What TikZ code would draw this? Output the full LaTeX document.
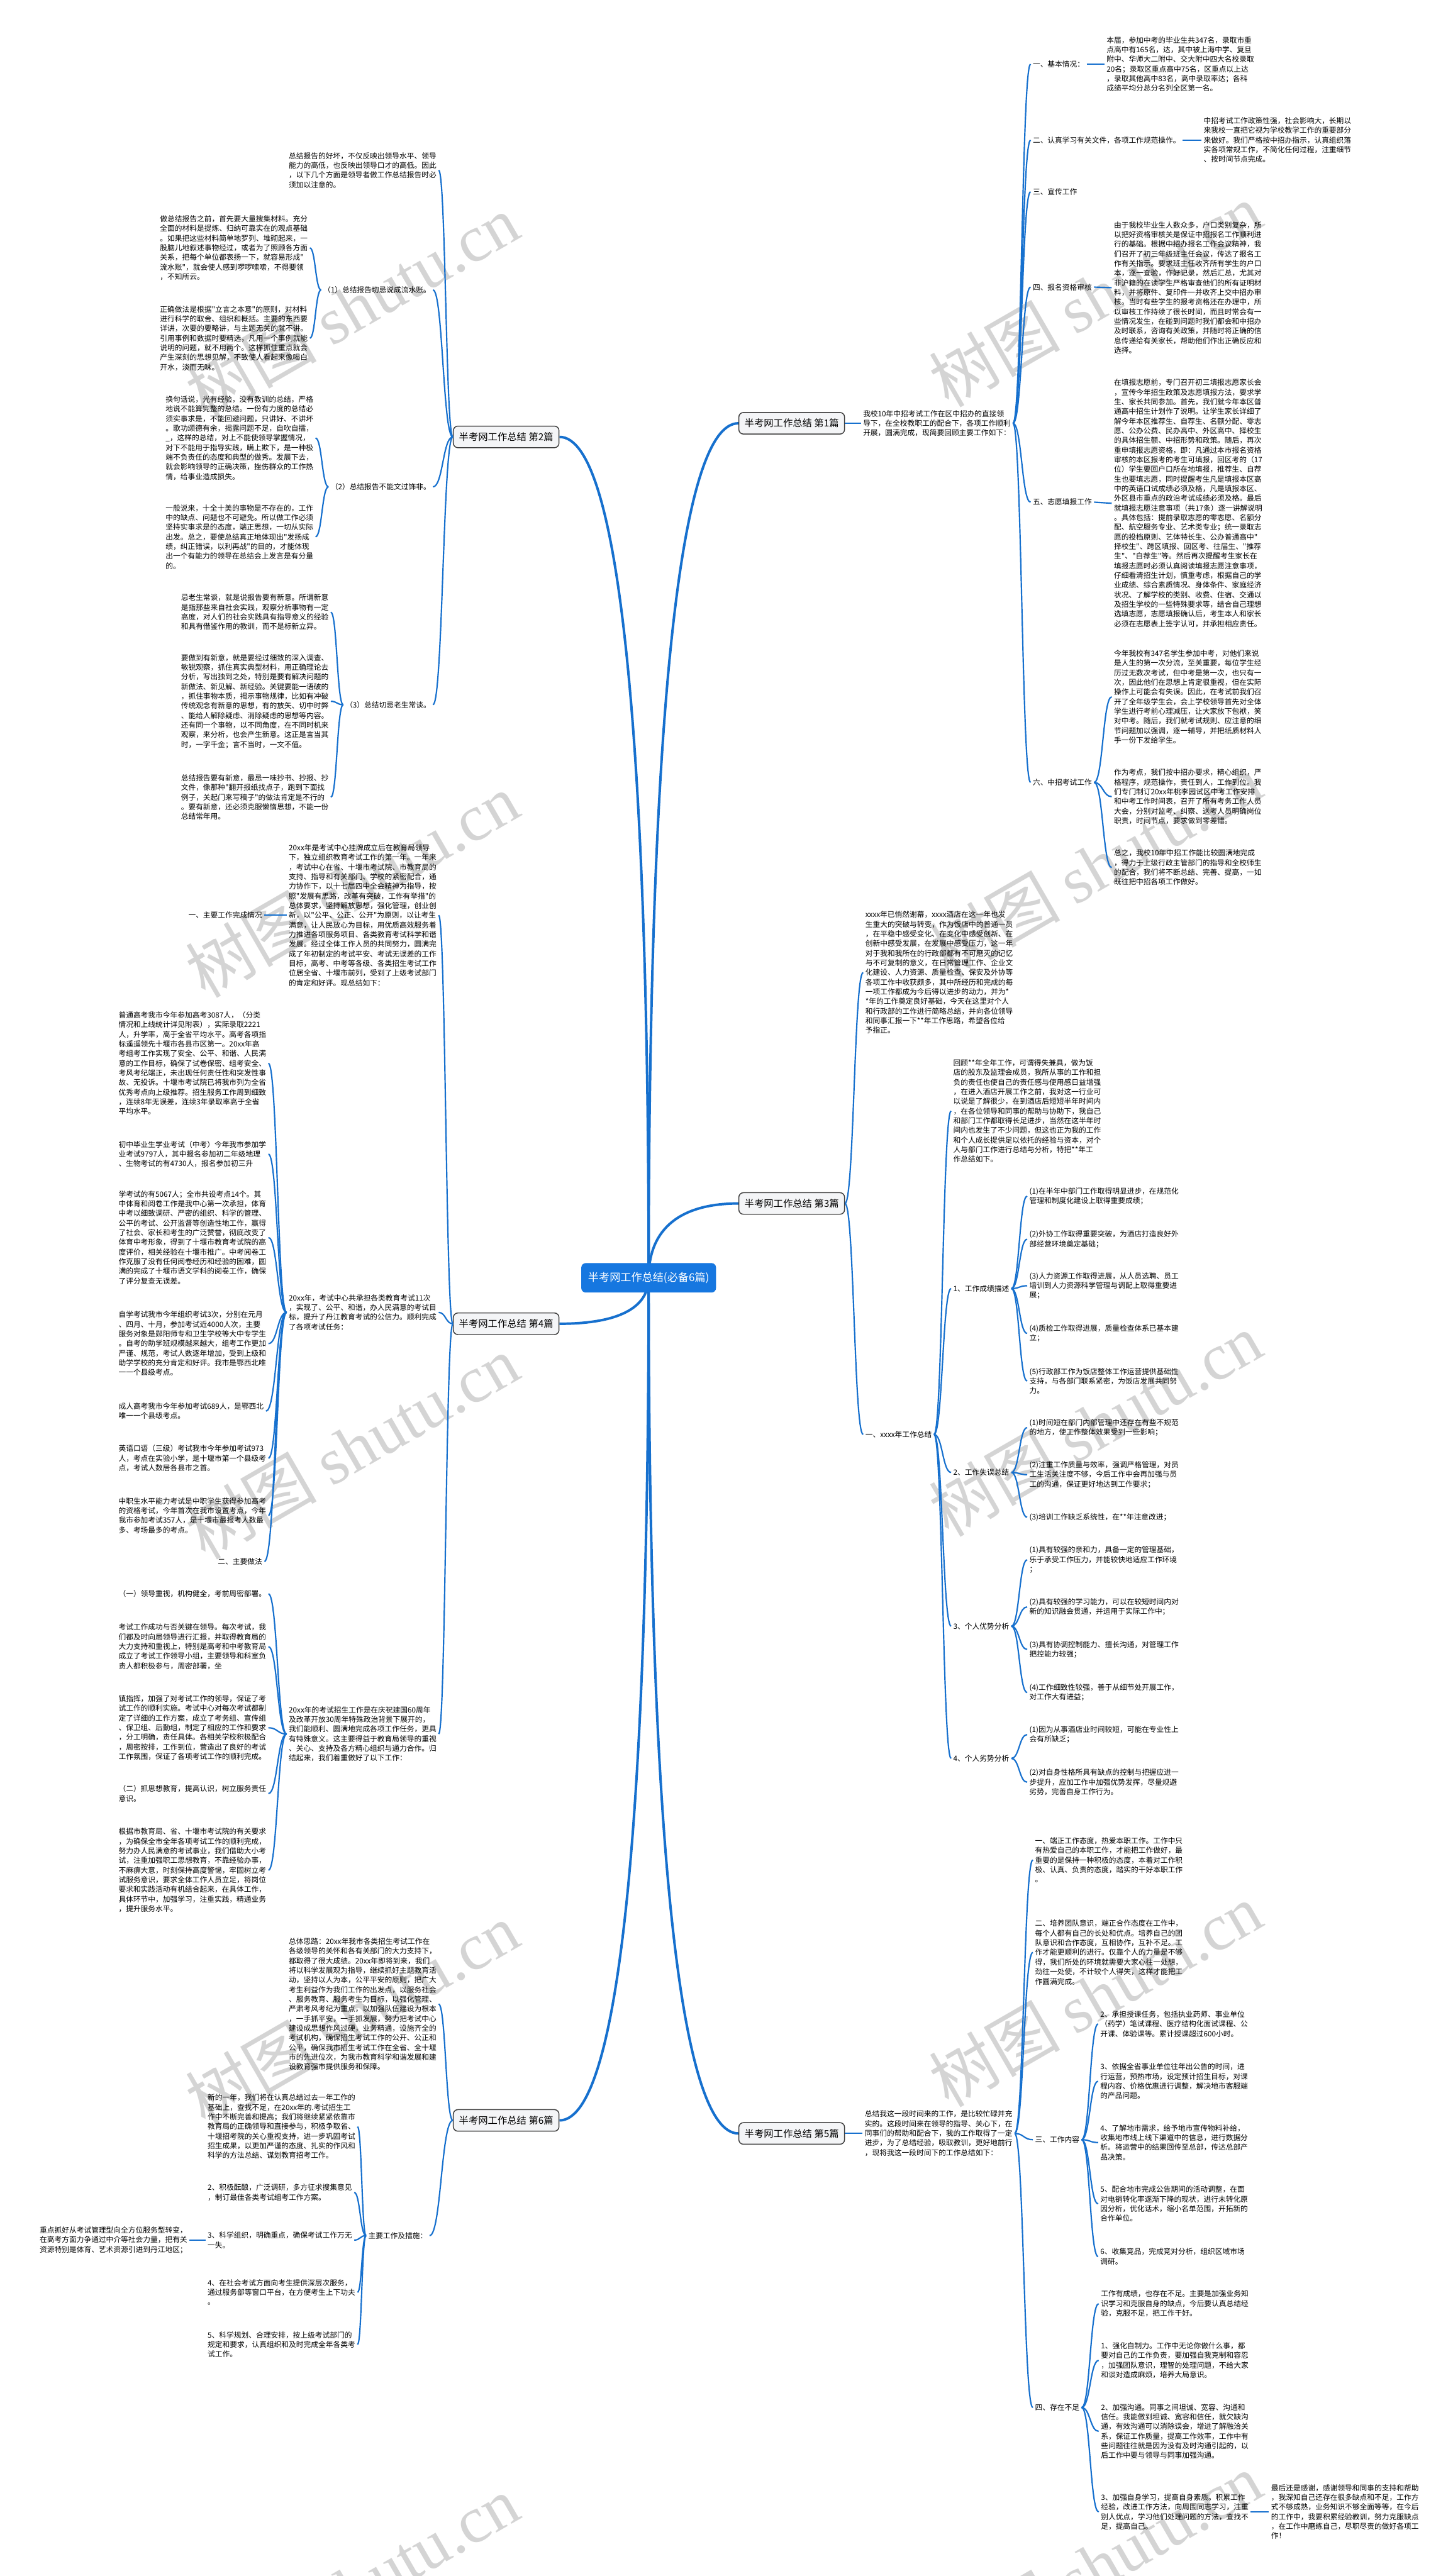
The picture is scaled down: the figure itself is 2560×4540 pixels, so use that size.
\documentclass[tikz,border=0pt]{standalone}
\usepackage{fontspec}
\newfontfamily\cjk{Noto Sans CJK SC}
\newfontfamily\wmfont{Liberation Serif}
\usetikzlibrary{calc,backgrounds}
\definecolor{linkblue}{RGB}{22,112,206}
\definecolor{rootblue}{RGB}{22,119,224}
\definecolor{boxgray}{RGB}{60,60,60}
\definecolor{boxfill}{RGB}{244,245,247}
\definecolor{markgray}{RGB}{212,212,212}
\begin{document}
\begin{tikzpicture}[x=0.5pt,y=-0.5pt]
  \tikzset{txt/.style={font=\cjk\fontsize{6.5}{8.5}\selectfont,align=left,inner sep=0pt,outer sep=2pt,anchor=west},
    root/.style={fill=rootblue,text=white,rounded corners=4pt,font=\cjk\fontsize{9.5}{11}\selectfont,inner xsep=6pt,minimum height=26pt},
    branch/.style={draw=boxgray,line width=0.8pt,fill=boxfill,rounded corners=4pt,font=\cjk\fontsize{8.5}{10}\selectfont,inner xsep=5pt,minimum height=19pt},
    link/.style={draw=linkblue,line width=1.2pt},
    trunk/.style={draw=linkblue,line width=2.2pt},
    curl/.style={to path={let \p1=(\tikztostart),\p2=(\tikztotarget),\n1={0.5*(\x1+\x2)} in .. controls (\n1,\y1) and (\n1,\y2) .. (\p2) \tikztonodes}},
    wmark/.style={text=markgray,font=\cjk\fontsize{58}{60}\selectfont,rotate=30,inner sep=0pt}}
  \useasboundingbox (0,0) rectangle (2560,4540);

  % centre and the six parts
  \node[root] (root) at (1143,2252) {半考网工作总结(必备6篇)};
  \node[branch,anchor=west] (b2) at (798,770) {半考网工作总结 第2篇};
  \node[branch,anchor=west] (b4) at (798,2333) {半考网工作总结 第4篇};
  \node[branch,anchor=west] (b6) at (798,3737) {半考网工作总结 第6篇};
  \node[branch,anchor=east] (b1) at (1489,746) {半考网工作总结 第1篇};
  \node[branch,anchor=east] (b3) at (1489,2121) {半考网工作总结 第3篇};
  \node[branch,anchor=east] (b5) at (1489,3760) {半考网工作总结 第5篇};

  % part 2
  \node[txt] (a2) at (505,300) {总结报告的好坏，不仅反映出领导水平、领导\\能力的高低，也反映出领导口才的高低。因此\\，以下几个方面是领导者做工作总结报告时必\\须加以注意的。};
  \node[txt,anchor=east] (a2s1) at (763,511) {（1）总结报告切忌说成流水账。};
  \node[txt] (a2s1a) at (278,437) {做总结报告之前，首先要大量搜集材料。充分\\全面的材料是提炼、归纳可靠实在的观点基础\\。如果把这些材料简单地罗列、堆砌起来，一\\股脑儿地叙述事物经过，或者为了照顾各方面\\关系，把每个单位都表扬一下，就容易形成"\\流水账"，就会使人感到啰啰嗦嗦，不得要领\\，不知所云。};
  \node[txt] (a2s1b) at (278,596) {正确做法是根据"立言之本意"的原则，对材料\\进行科学的取舍、组织和概括。主要的东西要\\详讲，次要的要略讲，与主题无关的就不讲。\\引用事例和数据时要精选，凡用一个事例就能\\说明的问题，就不用两个。这样抓住重点就会\\产生深刻的思想见解，不致使人看起来像喝白\\开水，淡而无味。};
  \node[txt,anchor=east] (a2s2) at (763,858) {（2）总结报告不能文过饰非。};
  \node[txt] (a2s2a) at (288,772) {换句话说，光有经验，没有教训的总结，严格\\地说不能算完整的总结。一份有力度的总结必\\须实事求是，不能回避问题，只讲好、不讲坏\\。歌功颂德有余，揭露问题不足，自吹自擂，\\\_，这样的总结，对上不能使领导掌握情况，\\对下不能用于指导实践，瞒上欺下，是一种极\\端不负责任的态度和典型的做秀。发展下去，\\就会影响领导的正确决策，挫伤群众的工作热\\情，给事业造成损失。};
  \node[txt] (a2s2b) at (288,946) {一般说来，十全十美的事物是不存在的，工作\\中的缺点、问题也不可避免。所以做工作必须\\坚持实事求是的态度，端正思想，一切从实际\\出发。总之，要使总结真正地体现出"发扬成\\绩，纠正错误，以利再战"的目的，才能体现\\出一个有能力的领导在总结会上发言是有分量\\的。};
  \node[txt,anchor=east] (a2s3) at (763,1242) {（3）总结切忌老生常谈。};
  \node[txt] (a2s3a) at (315,1079) {忌老生常谈，就是说报告要有新意。所谓新意\\是指那些来自社会实践，观察分析事物有一定\\高度，对人们的社会实践具有指导意义的经验\\和具有借鉴作用的教训，而不是标新立异。};
  \node[txt] (a2s3b) at (315,1236) {要做到有新意，就是要经过细致的深入调查、\\敏锐观察，抓住真实典型材料，用正确理论去\\分析，写出独到之处，特别是要有解决问题的\\新做法、新见解、新经验。关键要能一语破的\\，抓住事物本质，揭示事物规律，比如有冲破\\传统观念有新意的思想，有的放矢、切中时弊\\、能给人解除疑虑、消除疑虑的思想等内容。\\还有同一个事物，以不同角度，在不同时机来\\观察，来分析，也会产生新意。这正是言当其\\时，一字千金；言不当时，一文不值。};
  \node[txt] (a2s3c) at (315,1405) {总结报告要有新意，最忌一味抄书、抄报、抄\\文件，像那种"翻开报纸找点子，跑到下面找\\例子，关起门来写稿子"的做法肯定是不行的\\。要有新意，还必须克服懒惰思想，不能一份\\总结常年用。};

  % part 4
  \node[txt] (a4) at (505,1613) {20xx年是考试中心挂牌成立后在教育局领导\\下，独立组织教育考试工作的第一年。一年来\\，考试中心在省、十堰市考试院、市教育局的\\支持、指导和有关部门、学校的紧密配合，通\\力协作下，以十七届四中全会精神为指导，按\\照"发展有思路，改革有突破，工作有举措"的\\总体要求，坚持解放思想，强化管理，创业创\\新，以"公平、公正、公开"为原则，以让考生\\满意，让人民放心为目标，用优质高效服务着\\力推进各项服务项目、各类教育考试科学和谐\\发展。经过全体工作人员的共同努力，圆满完\\成了年初制定的考试平安、考试无误差的工作\\目标，高考、中考等各级、各类招生考试工作\\位居全省、十堰市前列，受到了上级考试部门\\的肯定和好评。现总结如下：};
  \node[txt,anchor=east] (a4s) at (466,1613) {一、主要工作完成情况};
  \node[txt] (b4m) at (505,2313) {20xx年，考试中心共承担各类教育考试11次\\，实现了、公平、和谐，办人民满意的考试目\\标，提升了丹江教育考试的公信力。顺利完成\\了各项考试任务：};
  \node[txt] (b4m1) at (205,1874) {普通高考我市今年参加高考3087人，（分类\\情况和上线统计详见附表），实际录取2221\\人，升学率，高于全省平均水平。高考各项指\\标遥遥领先十堰市各县市区第一。20xx年高\\考组考工作实现了安全、公平、和谐、人民满\\意的工作目标，确保了试卷保密、组考安全、\\考风考纪端正，未出现任何责任性和突发性事\\故、无投诉。十堰市考试院已将我市列为全省\\优秀考点向上级推荐。招生服务工作周到细致\\，连续8年无误差，连续3年录取率高于全省\\平均水平。};
  \node[txt] (b4m2) at (205,2034) {初中毕业生学业考试（中考）今年我市参加学\\业考试9797人，其中报名参加初二年级地理\\、生物考试的有4730人，报名参加初三升};
  \node[txt] (b4m3) at (205,2181) {学考试的有5067人；全市共设考点14个。其\\中体育和阅卷工作是我中心第一次承担，体育\\中考以细致调研、严密的组织、科学的管理、\\公平的考试、公开监督等创造性地工作，赢得\\了社会、家长和考生的广泛赞誉，彻底改变了\\体育中考形象，得到了十堰市教育考试院的高\\度评价，相关经验在十堰市推广。中考阅卷工\\作克服了没有任何阅卷经历和经验的困难，圆\\满的完成了十堰市语文学科的阅卷工作，确保\\了评分复查无误差。};
  \node[txt] (b4m4) at (205,2368) {自学考试我市今年组织考试3次，分别在元月\\、四月、十月，参加考试近4000人次，主要\\服务对象是郧阳师专和卫生学校等大中专学生\\。自考的助学班规模越来越大，组考工作更加\\严谨、规范，考试人数逐年增加，受到上级和\\助学学校的充分肯定和好评。我市是鄂西北唯\\一一个县级考点。};
  \node[txt] (b4m5) at (205,2487) {成人高考我市今年参加考试689人，是鄂西北\\唯一一个县级考点。};
  \node[txt] (b4m6) at (205,2570) {英语口语（三级）考试我市今年参加考试973\\人，考点在实验小学，是十堰市第一个县级考\\点，考试人数居各县市之首。};
  \node[txt] (b4m7) at (205,2671) {中职生水平能力考试是中职学生获得参加高考\\的资格考试，今年首次在我市设置考点，今年\\我市参加考试357人，是十堰市最报考人数最\\多、考场最多的考点。};
  \node[txt,anchor=east] (b4m8) at (466,2752) {二、主要做法};
  \node[txt] (c4) at (505,3056) {20xx年的考试招生工作是在庆祝建国60周年\\及改革开放30周年特殊政治背景下展开的，\\我们能顺利、圆满地完成各项工作任务，更具\\有特殊意义。这主要得益于教育局领导的重视\\、关心、支持及各方精心组织与通力合作。归\\结起来，我们着重做好了以下工作：};
  \node[txt] (c4a) at (205,2809) {（一）领导重视，机构健全，考前周密部署。};
  \node[txt] (c4b) at (205,2902) {考试工作成功与否关键在领导。每次考试，我\\们都及时向局领导进行汇报，并取得教育局的\\大力支持和重视上，特别是高考和中考教育局\\成立了考试工作领导小组，主要领导和科室负\\责人都积极参与，周密部署，坐};
  \node[txt] (c4c) at (205,3045) {镇指挥，加强了对考试工作的领导，保证了考\\试工作的顺利实施。考试中心对每次考试都制\\定了详细的工作方案，成立了考务组、宣传组\\、保卫组、后勤组，制定了相应的工作和要求\\，分工明确，责任具体。各相关学校积极配合\\，周密按排，工作到位，营造出了良好的考试\\工作氛围，保证了各项考试工作的顺利完成。};
  \node[txt] (c4d) at (205,3161) {（二）抓思想教育，提高认识，树立服务责任\\意识。};
  \node[txt] (c4e) at (205,3296) {根据市教育局、省、十堰市考试院的有关要求\\，为确保全市全年各项考试工作的顺利完成，\\努力办人民满意的考试事业，我们借助大小考\\试，注重加强职工思想教育，不靠经验办事，\\不麻痹大意，时刻保持高度警惕，牢固树立考\\试服务意识，要求全体工作人员立足，将岗位\\要求和实践活动有机结合起来，在具体工作，\\具体环节中，加强学习，注重实践，精通业务\\，提升服务水平。};

  % part 6
  \node[txt] (a6) at (505,3532) {总体思路：20xx年我市各类招生考试工作在\\各级领导的关怀和各有关部门的大力支持下，\\都取得了很大成绩。20xx年即将到来，我们\\将以科学发展观为指导，继续抓好主题教育活\\动，坚持以人为本，公平平安的原则，把广大\\考生利益作为我们工作的出发点，以服务社会\\、服务教育、服务考生为目标，以强化管理、\\严肃考风考纪为重点，以加强队伍建设为根本\\，一手抓平安，一手抓发展，努力把考试中心\\建设成思想作风过硬，业务精通，设施齐全的\\考试机构，确保招生考试工作的公开、公正和\\公平，确保我市招生考试工作在全省、全十堰\\市的先进位次，为我市教育科学和谐发展和建\\设教育强市提供服务和保障。};
  \node[txt,anchor=east] (b6s) at (757,3940) {主要工作及措施：};
  \node[txt] (b6s1) at (362,3748) {新的一年，我们将在认真总结过去一年工作的\\基础上，查找不足，在20xx年的.考试招生工\\作中不断完善和提高；我们将继续紧紧依靠市\\教育局的正确领导和直接参与，积极争取省、\\十堰招考院的关心重视支持，进一步巩固考试\\招生成果，以更加严谨的态度、扎实的作风和\\科学的方法总结、谋划教育招考工作。};
  \node[txt] (b6s2) at (362,3864) {2、积极酝酿，广泛调研，多方征求搜集意见\\，制订最佳各类考试组考工作方案。};
  \node[txt] (b6s3) at (362,3948) {3、科学组织，明确重点，确保考试工作万无\\一失。};
  \node[txt] (b6s3a) at (66,3948) {重点抓好从考试管理型向全方位服务型转变，\\在高考方面力争通过中介等社会力量，把有关\\资源特别是体育、艺术资源引进到丹江地区；};
  \node[txt] (b6s4) at (362,4040) {4、在社会考试方面向考生提供深层次服务，\\通过服务部等窗口平台，在方便考生上下功夫\\。};
  \node[txt] (b6s5) at (362,4132) {5、科学规划、合理安排，按上级考试部门的\\规定和要求，认真组织和及时完成全年各类考\\试工作。};

  % part 1
  \node[txt] (a1) at (1517,746) {我校10年中招考试工作在区中招办的直接领\\导下，在全校教职工的配合下，各项工作顺利\\开展，圆满完成，现简要回顾主要工作如下：};
  \node[txt] (a1s1) at (1816,113) {一、基本情况：};
  \node[txt] (a1s1a) at (1946,113) {本届，参加中考的毕业生共347名，录取市重\\点高中有165名，达，其中被上海中学、复旦\\附中、华师大二附中、交大附中四大名校录取\\20名；录取区重点高中75名，区重点以上达\\，录取其他高中83名，高中录取率达；各科\\成绩平均分总分名列全区第一名。};
  \node[txt] (a1s2) at (1816,247) {二、认真学习有关文件，各项工作规范操作。};
  \node[txt] (a1s2a) at (2117,247) {中招考试工作政策性强，社会影响大，长期以\\来我校一直把它视为学校教学工作的重要部分\\来做好。我们严格按中招办指示，认真组织落\\实各项常规工作，不简化任何过程，注重细节\\、按时间节点完成。};
  \node[txt] (a1s3) at (1816,338) {三、宣传工作};
  \node[txt] (a1s4) at (1816,506) {四、报名资格审核};
  \node[txt] (a1s4a) at (1959,507) {由于我校毕业生人数众多，户口类别复杂，所\\以把好资格审核关是保证中招报名工作顺利进\\行的基础。根据中招办报名工作会议精神，我\\们召开了初三年级班主任会议，传达了报名工\\作有关指示。要求班主任收齐所有学生的户口\\本，逐一查验，作好记录，然后汇总，尤其对\\非沪籍的在读学生严格审查他们的所有证明材\\料，并将原件、复印件一并收齐上交中招办审\\核。当时有些学生的报考资格还在办理中，所\\以审核工作持续了很长时间，而且时常会有一\\些情况发生，在碰到问题时我们都会和中招办\\及时联系，咨询有关政策，并随时将正确的信\\息传递给有关家长，帮助他们作出正确反应和\\选择。};
  \node[txt] (a1s5) at (1816,885) {五、志愿填报工作};
  \node[txt] (a1s5a) at (1959,887) {在填报志愿前，专门召开初三填报志愿家长会\\，宣传今年招生政策及志愿填报方法，要求学\\生、家长共同参加。首先，我们就今年本区普\\通高中招生计划作了说明。让学生家长详细了\\解今年本区推荐生、自荐生、名额分配、零志\\愿、公办公费、民办高中、外区高中、择校生\\的具体招生额、中招形势和政策。随后，再次\\重申填报志愿资格，即：凡通过本市报名资格\\审核的本区报考的考生可填报，回区考的（17\\位）学生要回户口所在地填报，推荐生、自荐\\生也要填志愿，同时提醒考生凡是填报本区高\\中的英语口试成绩必须及格，凡是填报本区、\\外区县市重点的政治考试成绩必须及格。最后\\就填报志愿注意事项（共17条）逐一讲解说明\\。具体包括：提前录取志愿的零志愿、名额分\\配、航空服务专业、艺术类专业；统一录取志\\愿的投档原则、艺体特长生、公办普通高中"\\择校生"、跨区填报、回区考、往届生、"推荐\\生"、"自荐生"等。然后再次提醒考生家长在\\填报志愿时必须认真阅读填报志愿注意事项，\\仔细看清招生计划，慎重考虑，根据自己的学\\业成绩、综合素质情况、身体条件、家庭经济\\状况、了解学校的类别、收费、住宿、交通以\\及招生学校的一些特殊要求等，结合自己理想\\选填志愿，志愿填报确认后，考生本人和家长\\必须在志愿表上签字认可，并承担相应责任。};
  \node[txt] (a1s6) at (1816,1379) {六、中招考试工作};
  \node[txt] (a1s6a) at (1959,1228) {今年我校有347名学生参加中考，对他们来说\\是人生的第一次分流，至关重要，每位学生经\\历过无数次考试，但中考是第一次，也只有一\\次，因此他们在思想上肯定很重视，但在实际\\操作上可能会有失误。因此，在考试前我们召\\开了全年级学生会，会上学校领导首先对全体\\学生进行考前心理减压，让大家放下包袱，笑\\对中考。随后，我们就考试规则、应注意的细\\节问题加以强调，逐一辅导，并把纸质材料人\\手一份下发给学生。};
  \node[txt] (a1s6b) at (1959,1404) {作为考点，我们按中招办要求，精心组织，严\\格程序，规范操作，责任到人，工作到位。我\\们专门制订20xx年桃李园试区中考工作安排\\和中考工作时间表，召开了所有考务工作人员\\大会，分别对监考、纠察、送考人员明确岗位\\职责，时间节点，要求做到零差错。};
  \node[txt] (a1s6c) at (1959,1529) {总之，我校10年中招工作能比较圆满地完成\\，得力于上级行政主管部门的指导和全校师生\\的配合，我们将不断总结、完善、提高，一如\\既往把中招各项工作做好。};

  % part 3
  \node[txt] (a3) at (1521,1714) {xxxx年已悄然谢幕，xxxx酒店在这一年也发\\生重大的突破与转变，作为饭店中的普通一员\\，在平稳中感受变化、在变化中感受创新、在\\创新中感受发展，在发展中感受压力，这一年\\对于我和我所在的行政部都有不可磨灭的记忆\\与不可复制的意义，在日常管理工作、企业文\\化建设、人力资源、质量检查、保安及外协等\\各项工作中收获颇多，其中所经历和完成的每\\一项工作都成为今后得以进步的动力，并为*\\*年的工作奠定良好基础，今天在这里对个人\\和行政部的工作进行简略总结，并向各位领导\\和同事汇报一下**年工作思路，希望各位给\\予指正。};
  \node[txt] (b3s) at (1521,2528) {一、xxxx年工作总结};
  \node[txt] (b3s0) at (1676,1958) {回顾**年全年工作，可谓得失兼具，做为饭\\店的股东及监理会成员，我所从事的工作和担\\负的责任也使自己的责任感与使用感日益增强\\，在进入酒店开展工作之前，我对这一行业可\\以说是了解很少，在到酒店后短短半年时间内\\，在各位领导和同事的帮助与协助下，我自己\\和部门工作都取得长足进步，当然在这半年时\\间内也发生了不少问题，但这也正为我的工作\\和个人成长提供足以依托的经验与资本，对个\\人与部门工作进行总结与分析，特把**年工\\作总结如下。};
  \node[txt] (b3s1) at (1676,2271) {1、工作成绩描述};
  \node[txt] (b3s1a) at (1810,2108) {(1)在半年中部门工作取得明显进步，在规范化\\管理和制度化建设上取得重要成绩；};
  \node[txt] (b3s1b) at (1810,2184) {(2)外协工作取得重要突破，为酒店打造良好外\\部经营环境奠定基础；};
  \node[txt] (b3s1c) at (1810,2266) {(3)人力资源工作取得进展，从人员选聘、员工\\培训到人力资源科学管理与调配上取得重要进\\展；};
  \node[txt] (b3s1d) at (1810,2350) {(4)质检工作取得进展，质量检查体系已基本建\\立；};
  \node[txt] (b3s1e) at (1810,2434) {(5)行政部工作为饭店整体工作运营提供基础性\\支持，与各部门联系紧密，为饭店发展共同努\\力。};
  \node[txt] (b3s2) at (1676,2595) {2、工作失误总结};
  \node[txt] (b3s2a) at (1810,2516) {(1)时间短在部门内部管理中还存在有些不规范\\的地方，使工作整体效果受到一些影响；};
  \node[txt] (b3s2b) at (1810,2599) {(2)注重工作质量与效率，强调严格管理，对员\\工生活关注度不够，今后工作中会再加强与员\\工的沟通，保证更好地达到工作要求；};
  \node[txt] (b3s2c) at (1810,2674) {(3)培训工作缺乏系统性，在**年注意改进；};
  \node[txt] (b3s3) at (1676,2866) {3、个人优势分析};
  \node[txt] (b3s3a) at (1810,2749) {(1)具有较强的亲和力，具备一定的管理基础，\\乐于承受工作压力，并能较快地适应工作环境\\；};
  \node[txt] (b3s3b) at (1810,2832) {(2)具有较强的学习能力，可以在较短时间内对\\新的知识融会贯通，并运用于实际工作中；};
  \node[txt] (b3s3c) at (1810,2907) {(3)具有协调控制能力、擅长沟通，对管理工作\\把控能力较强；};
  \node[txt] (b3s3d) at (1810,2983) {(4)工作细致性较强，善于从细节处开展工作，\\对工作大有进益；};
  \node[txt] (b3s4) at (1676,3099) {4、个人劣势分析};
  \node[txt] (b3s4a) at (1810,3057) {(1)因为从事酒店业时间较短，可能在专业性上\\会有所缺乏；};
  \node[txt] (b3s4b) at (1810,3141) {(2)对自身性格所具有缺点的控制与把握应进一\\步提升，应加工作中加强优势发挥，尽量规避\\劣势，完善自身工作行为。};

  % part 5
  \node[txt] (a5) at (1520,3760) {总结我这一段时间来的工作，是比较忙碌并充\\实的。这段时间来在领导的指导、关心下，在\\同事们的帮助和配合下，我的工作取得了一定\\进步，为了总结经验，吸取教训，更好地前行\\，现将我这一段时间下的工作总结如下：};
  \node[txt] (a5s1) at (1820,3278) {一、端正工作态度，热爱本职工作。工作中只\\有热爱自己的本职工作，才能把工作做好，最\\重要的是保持一种积极的态度，本着对工作积\\极、认真、负责的态度，踏实的干好本职工作\\。};
  \node[txt] (a5s2) at (1820,3441) {二、培养团队意识，端正合作态度在工作中，\\每个人都有自己的长处和优点。培养自己的团\\队意识和合作态度，互相协作，互补不足。工\\作才能更顺利的进行。仅靠个人的力量是不够\\得，我们所处的环境就需要大家心往一处想，\\劲往一处使，不计较个人得失，这样才能把工\\作圆满完成。};
  \node[txt] (a5s3) at (1820,3771) {三、工作内容};
  \node[txt] (a5s3a) at (1935,3567) {2、承担授课任务，包括执业药师、事业单位\\（药学）笔试课程、医疗结构化面试课程、公\\开课、体验课等。累计授课超过600小时。};
  \node[txt] (a5s3b) at (1935,3668) {3、依据全省事业单位往年出公告的时间，进\\行运营，预热市场，设定预计招生目标，对课\\程内容、价格优惠进行调整，解决地市客服端\\的产品问题。};
  \node[txt] (a5s3c) at (1935,3776) {4、了解地市需求，给予地市宣传物料补给，\\收集地市线上线下渠道中的信息，进行数据分\\析。将运营中的结果回传至总部，传达总部产\\品决策。};
  \node[txt] (a5s3d) at (1935,3884) {5、配合地市完成公告期间的活动调整，在面\\对电销转化率逐渐下降的现状，进行未转化原\\因分析，优化话术，缩小名单范围，开拓新的\\合作单位。};
  \node[txt] (a5s3e) at (1935,3977) {6、收集竞品，完成竞对分析，组织区域市场\\调研。};
  \node[txt] (a5s4) at (1820,4243) {四、存在不足};
  \node[txt] (a5s4a) at (1936,4060) {工作有成绩，也存在不足。主要是加强业务知\\识学习和克服自身的缺点，今后要认真总结经\\验，克服不足，把工作干好。};
  \node[txt] (a5s4b) at (1936,4160) {1、强化自制力。工作中无论你做什么事，都\\要对自己的工作负责，要加强自我克制和容忍\\，加强团队意识，理智的处理问题，不给大家\\和谈对造成麻烦，培养大局意识。};
  \node[txt] (a5s4c) at (1936,4285) {2、加强沟通。同事之间坦诚、宽容、沟通和\\信任。我能做到坦诚、宽容和信任，就欠缺沟\\通，有效沟通可以消除误会，增进了解融洽关\\系，保证工作质量，提高工作效率，工作中有\\些问题往往就是因为没有及时沟通引起的，以\\后工作中要与领导与同事加强沟通。};
  \node[txt] (a5s4d) at (1936,4427) {3、加强自身学习，提高自身素质。积累工作\\经验，改进工作方法，向周围同志学习，注重\\别人优点，学习他们处理问题的方法，查找不\\足，提高自己。};
  \node[txt] (a5s4e) at (2236,4427) {最后还是感谢，感谢领导和同事的支持和帮助\\，我深知自己还存在很多缺点和不足，工作方\\式不够成熟，业务知识不够全面等等，在今后\\的工作中，我要积累经验教训，努力克服缺点\\，在工作中磨练自己，尽职尽责的做好各项工\\作！};

  % connectors
  \draw[link] (b2.west) to[curl] (a2.east) (b2.west) to[curl] (a2s1.east)
    (b2.west) to[curl] (a2s2.east) (b2.west) to[curl] (a2s3.east);
  \draw[link] (a2s1.west) to[curl] (a2s1a.east) (a2s1.west) to[curl] (a2s1b.east);
  \draw[link] (a2s2.west) to[curl] (a2s2a.east) (a2s2.west) to[curl] (a2s2b.east);
  \draw[link] (a2s3.west) to[curl] (a2s3a.east) (a2s3.west) to[curl] (a2s3b.east)
    (a2s3.west) to[curl] (a2s3c.east);
  \draw[link] (b4.west) to[curl] (a4.east) (b4.west) to[curl] (b4m.east)
    (b4.west) to[curl] (c4.east);
  \draw[link] (a4.west) to[curl] (a4s.east);
  \foreach \k in {1,...,8} {\draw[link] (b4m.west) to[curl] (b4m\k.east);}
  \foreach \k in {a,b,c,d,e} {\draw[link] (c4.west) to[curl] (c4\k.east);}
  \draw[link] (b6.west) to[curl] (a6.east) (b6.west) to[curl] (b6s.east);
  \foreach \k in {1,...,5} {\draw[link] (b6s.west) to[curl] (b6s\k.east);}
  \draw[link] (b6s3.west) to[curl] (b6s3a.east);

  \draw[link] (b1.east) to[curl] (a1.west);
  \foreach \k in {1,...,6} {\draw[link] (a1.east) to[curl] (a1s\k.west);}
  \foreach \k in {1,2,4,5} {\draw[link] (a1s\k.east) to[curl] (a1s\k a.west);}
  \foreach \k in {a,b,c} {\draw[link] (a1s6.east) to[curl] (a1s6\k.west);}
  \draw[link] (b3.east) to[curl] (a3.west) (b3.east) to[curl] (b3s.west);
  \foreach \k in {0,...,4} {\draw[link] (b3s.east) to[curl] (b3s\k.west);}
  \foreach \k in {a,...,e} {\draw[link] (b3s1.east) to[curl] (b3s1\k.west);}
  \foreach \k in {a,b,c} {\draw[link] (b3s2.east) to[curl] (b3s2\k.west);}
  \foreach \k in {a,...,d} {\draw[link] (b3s3.east) to[curl] (b3s3\k.west);}
  \foreach \k in {a,b} {\draw[link] (b3s4.east) to[curl] (b3s4\k.west);}
  \draw[link] (b5.east) to[curl] (a5.west);
  \foreach \k in {1,...,4} {\draw[link] (a5.east) to[curl] (a5s\k.west);}
  \foreach \k in {a,...,e} {\draw[link] (a5s3.east) to[curl] (a5s3\k.west);}
  \foreach \k in {a,...,d} {\draw[link] (a5s4.east) to[curl] (a5s4\k.west);}
  \draw[link] (a5s4d.east) to[curl] (a5s4e.west);

  \begin{scope}[on background layer]
    \fill[white] (0,0) rectangle (2560,4540);
    \node[wmark] (wm1) at (620,540) {树图 {\wmfont shutu.cn}};
    \node[wmark] (wm2) at (1930,520) {树图 {\wmfont shutu.cn}};
    \node[wmark] (wm3) at (620,1560) {树图 {\wmfont shutu.cn}};
    \node[wmark] (wm4) at (1930,1525) {树图 {\wmfont shutu.cn}};
    \node[wmark] (wm5) at (620,2550) {树图 {\wmfont shutu.cn}};
    \node[wmark] (wm6) at (1930,2510) {树图 {\wmfont shutu.cn}};
    \node[wmark] (wm7) at (620,3550) {树图 {\wmfont shutu.cn}};
    \node[wmark] (wm8) at (1930,3516) {树图 {\wmfont shutu.cn}};
    \node[wmark] (wm9) at (620,4560) {树图 {\wmfont shutu.cn}};
    \node[wmark] (wm10) at (1930,4520) {树图 {\wmfont shutu.cn}};
    \draw[trunk] (root.center) .. controls +(0,-988) and +(102,0) .. (b2.east);
    \draw[trunk] (root.center) .. controls +(0,54) and +(102,0) .. (b4.east);
    \draw[trunk] (root.center) .. controls +(0,990) and +(102,0) .. (b6.east);
    \draw[trunk] (root.center) .. controls +(0,-1004) and +(-102,0) .. (b1.west);
    \draw[trunk] (root.center) .. controls +(0,-87) and +(-102,0) .. (b3.west);
    \draw[trunk] (root.center) .. controls +(0,1005) and +(-102,0) .. (b5.west);
  \end{scope}
\end{tikzpicture}
\end{document}
